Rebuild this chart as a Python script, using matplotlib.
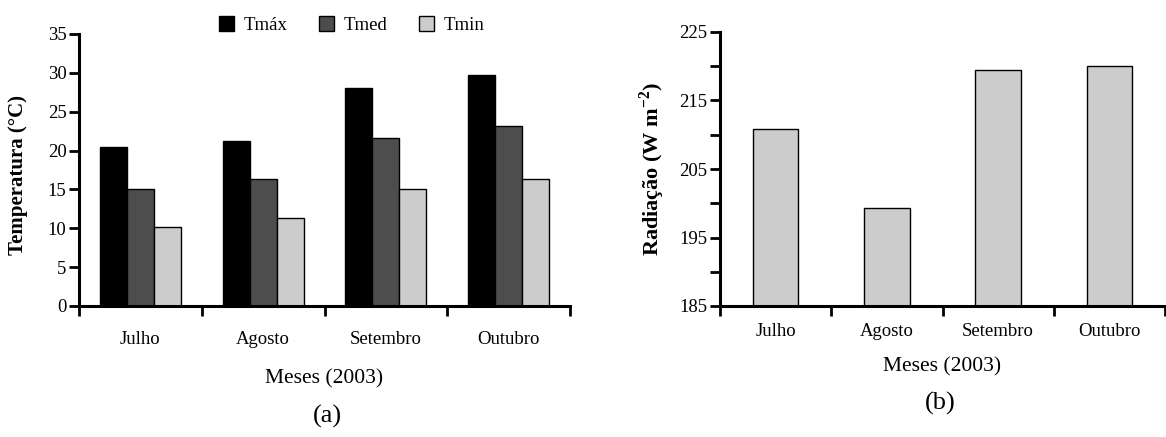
import numpy as np
import matplotlib
matplotlib.use('Agg')
import matplotlib.pyplot as plt

# dados
meses = ["Julho", "Agosto", "Setembro", "Outubro"]
tmax = [20.4, 21.2, 28.0, 29.7]
tmed = [15.1, 16.4, 21.6, 23.1]
tmin = [10.2, 11.3, 15.1, 16.4]
radiacao = [210.9, 199.3, 219.4, 220.0]

plt.rcParams['font.family'] = ['Liberation Serif', 'DejaVu Serif']
plt.rcParams['mathtext.fontset'] = 'custom'
plt.rcParams['mathtext.rm'] = 'Liberation Serif'
plt.rcParams['mathtext.bf'] = 'Liberation Serif:bold'

W, H = 1166, 437
fig = plt.figure(figsize=(W / 100, H / 100), dpi=100)

# =========================================================================
# (a) temperatura
# =========================================================================
ax1 = fig.add_axes([79 / W, 1 - 306 / H, (570 - 79) / W, (306 - 34) / H])
x = np.arange(len(meses))
bw = 0.22
series = [("Tmáx", tmax, "#000000"), ("Tmed", tmed, "#4d4d4d"), ("Tmin", tmin, "#cccccc")]
for i, (nome, vals, cor) in enumerate(series):
    ax1.bar(x + (i - 1) * bw, vals, bw, color=cor, edgecolor="black", linewidth=1, label=nome)

ax1.set_xlim(-0.5, len(meses) - 0.5)
ax1.set_ylim(0, 35)
ax1.set_yticks(np.arange(0, 36, 5))
ax1.set_xticks(x)
ax1.set_xticklabels(meses)
ax1.set_xticks(np.arange(-0.5, len(meses), 1), minor=True)
ax1.tick_params(axis='x', which='major', length=0, pad=18, labelsize=13.5)
ax1.tick_params(axis='x', which='minor', length=7, width=2, direction='out')
ax1.tick_params(axis='y', length=7, width=2, direction='out', pad=2, labelsize=13.5)
ax1.set_xlabel("Meses (2003)", fontsize=15.5, labelpad=15)
ax1.set_ylabel("Temperatura (°C)", fontsize=15, fontweight='bold')
ax1.yaxis.set_label_coords(-0.104, 0.48)

fig.legend(*ax1.get_legend_handles_labels(), loc='center', ncol=3, frameon=False,
           bbox_to_anchor=(352 / W, 1 - 25 / H), bbox_transform=fig.transFigure,
           handlelength=0.8, handleheight=0.8, handletextpad=0.5, columnspacing=1.7,
           fontsize=13.5)

# =========================================================================
# (b) radiacao
# =========================================================================
ax2 = fig.add_axes([720 / W, 1 - 306 / H, (1165 - 720) / W, (306 - 32) / H])
ax2.bar(x, radiacao, 0.41, color="#cccccc", edgecolor="black", linewidth=1)
ax2.set_xlim(-0.5, len(meses) - 0.5)
ax2.set_ylim(185, 225)
ax2.set_yticks(np.arange(185, 226, 10))
ax2.set_yticks(np.arange(190, 225, 10), minor=True)
ax2.set_xticks(x)
ax2.set_xticklabels(meses)
ax2.set_xticks(np.arange(-0.5, len(meses), 1), minor=True)
ax2.tick_params(axis='x', which='major', length=0, pad=12, labelsize=13.5)
ax2.tick_params(axis='x', which='minor', length=7, width=2, direction='out')
ax2.tick_params(axis='y', which='both', length=7, width=2, direction='out', pad=2, labelsize=13.5)
ax2.set_xlabel("Meses (2003)", fontsize=15.5, labelpad=13)
ax2.set_ylabel("Radiação (W m$^{\\mathregular{-2}}$)", fontsize=16, fontweight='bold')
ax2.yaxis.set_label_coords(-0.119, 0.5)

for ax in (ax1, ax2):
    for s in ("top", "right"):
        ax.spines[s].set_visible(False)
    for s in ("left", "bottom"):
        ax.spines[s].set_linewidth(2.2)

fig.text(327 / W, 1 - 416 / H, "(a)", ha='center', va='center', fontsize=19)
fig.text(940 / W, 1 - 403 / H, "(b)", ha='center', va='center', fontsize=19)

fig.savefig("out.png", dpi=100)
